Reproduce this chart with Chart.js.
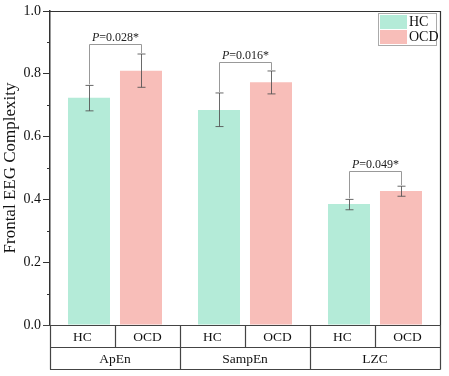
<!DOCTYPE html>
<html>
<head>
<meta charset="utf-8">
<script src="https://cdn.jsdelivr.net/npm/chart.js@4/dist/chart.umd.min.js"></script>
<style>
  html, body { margin: 0; padding: 0; background: #fff; }
  #wrap { width: 449px; height: 376px; }
</style>
</head>
<body>
<div id="wrap"><canvas id="chart" width="449" height="376"></canvas></div>
<script>
const groups = ["ApEn", "SampEn", "LZC"];
const seriesNames = ["HC", "OCD"];

const hcMean = [0.724, 0.685, 0.385];
const hcLow = [0.682, 0.632, 0.367];
const hcHigh = [0.763, 0.739, 0.400];

const ocdMean = [0.810, 0.773, 0.427];
const ocdLow = [0.757, 0.736, 0.410];
const ocdHigh = [0.863, 0.809, 0.442];

const pValues = ["0.028*", "0.016*", "0.049*"];
const bracketTop = [0.895, 0.836, 0.490];

const yTicks = [0, 0.2, 0.4, 0.6, 0.8, 1.0];
const yMinorTicks = [0.1, 0.3, 0.5, 0.7, 0.9];

const HC_COLOR = "#b4ebd8";
const OCD_COLOR = "#f8beb9";
const SERIF = "'Liberation Serif', 'DejaVu Serif', serif";

const errLow = [hcLow, ocdLow];
const errHigh = [hcHigh, ocdHigh];

const extras = {
  id: "extras",
  afterDatasetsDraw(chart) {
    const { ctx, scales } = chart;
    const y = scales.y;
    ctx.save();
    // error bars
    ctx.strokeStyle = "rgba(80,80,80,0.85)";
    ctx.lineWidth = 1;
    [0, 1].forEach((d) => {
      chart.getDatasetMeta(d).data.forEach((bar, i) => {
        const x = Math.round(bar.x) + 0.5;
        const yl = y.getPixelForValue(errLow[d][i]);
        const yh = y.getPixelForValue(errHigh[d][i]);
        ctx.beginPath();
        ctx.moveTo(x, yl); ctx.lineTo(x, yh);
        ctx.moveTo(x - 4, yl); ctx.lineTo(x + 4, yl);
        ctx.moveTo(x - 4, yh); ctx.lineTo(x + 4, yh);
        ctx.stroke();
      });
    });
    ctx.restore();
  },
  afterDraw(chart) {
    const { ctx, chartArea: a, scales } = chart;
    const y = scales.y;
    ctx.save();

    // significance brackets
    const hcBars = chart.getDatasetMeta(0).data;
    const ocdBars = chart.getDatasetMeta(1).data;
    groups.forEach((g, i) => {
      const x1 = Math.round(hcBars[i].x) + 0.5;
      const x2 = Math.round(ocdBars[i].x) + 0.5;
      const yt = Math.round(y.getPixelForValue(bracketTop[i])) + 0.5;
      ctx.strokeStyle = "#999";
      ctx.lineWidth = 1;
      ctx.beginPath();
      ctx.moveTo(x1, y.getPixelForValue(hcHigh[i]) - 1);
      ctx.lineTo(x1, yt);
      ctx.lineTo(x2, yt);
      ctx.lineTo(x2, y.getPixelForValue(ocdHigh[i]) - 1);
      ctx.stroke();

      ctx.fillStyle = "#222";
      ctx.textBaseline = "alphabetic";
      ctx.font = "italic 12px " + SERIF;
      const wP = ctx.measureText("P").width;
      ctx.font = "12px " + SERIF;
      const rest = "=" + pValues[i];
      const wR = ctx.measureText(rest).width;
      const sx = (x1 + x2) / 2 - (wP + wR) / 2;
      ctx.textAlign = "left";
      ctx.font = "italic 12px " + SERIF;
      ctx.fillText("P", sx, yt - 4);
      ctx.font = "12px " + SERIF;
      ctx.fillText(rest, sx + wP, yt - 4);
    });

    // minor y ticks
    ctx.strokeStyle = "#333";
    ctx.lineWidth = 1;
    yMinorTicks.forEach((v) => {
      const py = Math.round(y.getPixelForValue(v)) + 0.5;
      ctx.beginPath();
      ctx.moveTo(a.left - 3, py); ctx.lineTo(a.left, py);
      ctx.stroke();
    });

    // frame (top and right)
    ctx.strokeStyle = "#333";
    ctx.lineWidth = 1.2;
    ctx.beginPath();
    ctx.moveTo(a.left, a.top + 0.5);
    ctx.lineTo(a.right + 0.5, a.top + 0.5);
    ctx.lineTo(a.right + 0.5, a.bottom);
    ctx.stroke();

    // category table under the plot
    const rowH = 22;
    const r0 = a.bottom, r1 = a.bottom + rowH, r2 = a.bottom + rowH * 2;
    const slotW = (a.right - a.left) / (groups.length * 2);
    ctx.strokeStyle = "#444";
    ctx.lineWidth = 1.2;
    ctx.beginPath();
    ctx.moveTo(a.left - 7, r0 + 0.5); ctx.lineTo(a.right + 0.5, r0 + 0.5);
    ctx.moveTo(a.left, r1 + 0.5); ctx.lineTo(a.right + 0.5, r1 + 0.5);
    ctx.moveTo(a.left, r2 + 0.5); ctx.lineTo(a.right + 0.5, r2 + 0.5);
    ctx.moveTo(a.left + 0.5, r0); ctx.lineTo(a.left + 0.5, r2 + 0.5);
    ctx.moveTo(a.right + 0.5, r0); ctx.lineTo(a.right + 0.5, r2 + 0.5);
    for (let k = 1; k < groups.length * 2; k++) {
      const x = Math.round(a.left + k * slotW) + 0.5;
      ctx.moveTo(x, r0);
      ctx.lineTo(x, k % 2 === 0 ? r2 : r1);
    }
    ctx.stroke();

    ctx.fillStyle = "#111";
    ctx.font = "13.5px " + SERIF;
    ctx.textAlign = "center";
    ctx.textBaseline = "middle";
    groups.forEach((g, i) => {
      seriesNames.forEach((s, j) => {
        ctx.fillText(s, a.left + (i * 2 + j + 0.5) * slotW, r0 + rowH / 2 + 1);
      });
      ctx.fillText(g, a.left + (i * 2 + 1) * slotW, r1 + rowH / 2 + 1);
    });

    // legend
    const lx = 378, ly = 13, lw = 58, lh = 32;
    ctx.strokeStyle = "#aaa";
    ctx.lineWidth = 1;
    ctx.strokeRect(lx + 0.5, ly + 0.5, lw, lh);
    ctx.font = "14px " + SERIF;
    [HC_COLOR, OCD_COLOR].forEach((c, j) => {
      ctx.fillStyle = c;
      ctx.fillRect(lx + 2, ly + 2 + j * 15, 27, 14);
      ctx.fillStyle = "#111";
      ctx.textAlign = "left";
      ctx.fillText(seriesNames[j], lx + 31, ly + 9 + j * 15);
    });

    ctx.restore();
  }
};

new Chart(document.getElementById("chart"), {
  type: "bar",
  data: {
    labels: groups,
    datasets: [
      { label: "HC", data: hcMean, backgroundColor: HC_COLOR },
      { label: "OCD", data: ocdMean, backgroundColor: OCD_COLOR }
    ]
  },
  options: {
    responsive: false,
    animation: false,
    layout: { padding: { top: 11, right: 9, bottom: 51, left: 0 } },
    categoryPercentage: 0.8,
    barPercentage: 0.808,
    plugins: { legend: { display: false }, tooltip: { enabled: false } },
    scales: {
      x: {
        display: false,
        grid: { display: false }
      },
      y: {
        min: 0,
        max: 1,
        afterBuildTicks: (s) => { s.ticks = yTicks.map((v) => ({ value: v })); },
        afterFit: (s) => { s.width = 50; },
        border: { display: true, color: "#333", width: 1.5 },
        grid: { drawOnChartArea: false, tickLength: 7, color: "#333", tickColor: "#333" },
        ticks: {
          color: "#111",
          padding: 2,
          font: { family: SERIF, size: 14 },
          callback: (v) => v.toFixed(1)
        },
        title: {
          display: true,
          text: "Frontal EEG Complexity",
          color: "#111",
          font: { family: SERIF, size: 17 },
          padding: { top: 0, bottom: 0 }
        }
      }
    }
  },
  plugins: [extras]
});
</script>
</body>
</html>
